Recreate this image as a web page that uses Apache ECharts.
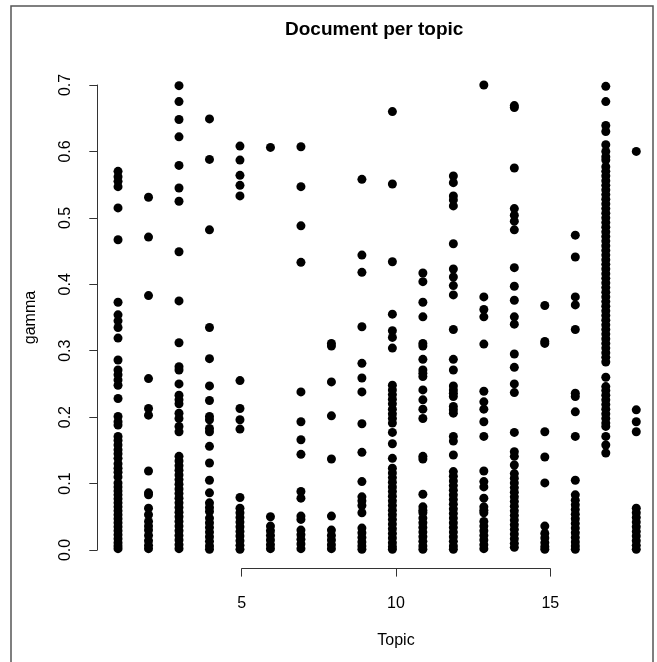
<!DOCTYPE html>
<html>
<head>
<meta charset="utf-8">
<title>Document per topic</title>
<script src="https://cdn.jsdelivr.net/npm/echarts@6/dist/echarts.min.js"></script>
<style>
  html, body { margin: 0; padding: 0; background: #fff; }
  #chart { width: 657px; height: 662px; }
</style>
</head>
<body>
<div id="chart"></div>
<script>
// gamma values per topic
var t1 = [0.570, 0.562, 0.555, 0.547, 0.515, 0.467, 0.373, 0.354, 0.345, 0.335, 0.319, 0.286, 0.271, 0.264, 0.256, 0.248, 0.228, 0.201, 0.193, 0.188, 0.171, 0.165, 0.158, 0.151, 0.145, 0.138, 0.130, 0.123, 0.117, 0.110, 0.101, 0.095, 0.089, 0.083, 0.077, 0.071, 0.065, 0.059, 0.053, 0.047, 0.041, 0.035, 0.029, 0.023, 0.017, 0.011, 0.006, 0.002];
var t2 = [0.531, 0.471, 0.383, 0.258, 0.213, 0.203, 0.119, 0.086, 0.083, 0.063, 0.053, 0.043, 0.036, 0.030, 0.022, 0.014, 0.007, 0.002];
var t3 = [0.699, 0.675, 0.648, 0.622, 0.579, 0.545, 0.525, 0.449, 0.375, 0.312, 0.276, 0.271, 0.250, 0.233, 0.226, 0.220, 0.206, 0.198, 0.186, 0.178, 0.141, 0.134, 0.127, 0.120, 0.113, 0.106, 0.099, 0.092, 0.085, 0.078, 0.071, 0.064, 0.057, 0.050, 0.043, 0.036, 0.029, 0.022, 0.015, 0.008, 0.002];
var t4 = [0.649, 0.588, 0.482, 0.335, 0.288, 0.247, 0.225, 0.201, 0.196, 0.183, 0.178, 0.156, 0.131, 0.105, 0.086, 0.071, 0.064, 0.058, 0.048, 0.041, 0.034, 0.027, 0.020, 0.013, 0.006, 0.001];
var t5 = [0.608, 0.587, 0.564, 0.549, 0.533, 0.255, 0.213, 0.196, 0.182, 0.079, 0.063, 0.056, 0.049, 0.042, 0.035, 0.028, 0.021, 0.014, 0.007, 0.001];
var t6 = [0.606, 0.050, 0.036, 0.029, 0.022, 0.015, 0.008, 0.002];
var t7 = [0.607, 0.547, 0.488, 0.433, 0.238, 0.193, 0.166, 0.144, 0.088, 0.078, 0.051, 0.046, 0.030, 0.023, 0.016, 0.009, 0.002];
var t8 = [0.311, 0.307, 0.253, 0.202, 0.137, 0.051, 0.030, 0.022, 0.015, 0.008, 0.002];
var t9 = [0.558, 0.444, 0.418, 0.336, 0.281, 0.259, 0.238, 0.190, 0.147, 0.103, 0.080, 0.074, 0.067, 0.056, 0.033, 0.026, 0.019, 0.012, 0.006, 0.001];
var t10 = [0.660, 0.551, 0.434, 0.355, 0.330, 0.320, 0.304, 0.248, 0.241, 0.234, 0.227, 0.220, 0.212, 0.205, 0.198, 0.191, 0.177, 0.160, 0.138, 0.123, 0.116, 0.109, 0.102, 0.095, 0.088, 0.081, 0.074, 0.067, 0.060, 0.053, 0.046, 0.039, 0.032, 0.025, 0.018, 0.011, 0.005, 0.001];
var t11 = [0.417, 0.404, 0.373, 0.351, 0.311, 0.307, 0.287, 0.271, 0.266, 0.261, 0.241, 0.226, 0.212, 0.198, 0.141, 0.137, 0.084, 0.065, 0.060, 0.056, 0.048, 0.041, 0.034, 0.027, 0.020, 0.013, 0.006, 0.001];
var t12 = [0.563, 0.553, 0.533, 0.527, 0.518, 0.461, 0.423, 0.411, 0.398, 0.384, 0.332, 0.287, 0.271, 0.247, 0.241, 0.236, 0.231, 0.216, 0.211, 0.206, 0.171, 0.164, 0.143, 0.118, 0.111, 0.104, 0.097, 0.090, 0.083, 0.076, 0.069, 0.062, 0.055, 0.048, 0.041, 0.034, 0.027, 0.020, 0.013, 0.006, 0.001];
var t13 = [0.700, 0.381, 0.362, 0.351, 0.310, 0.239, 0.223, 0.212, 0.193, 0.171, 0.119, 0.103, 0.095, 0.078, 0.065, 0.060, 0.056, 0.043, 0.036, 0.029, 0.022, 0.015, 0.008, 0.002];
var t14 = [0.669, 0.666, 0.575, 0.514, 0.504, 0.495, 0.482, 0.425, 0.397, 0.376, 0.351, 0.340, 0.295, 0.275, 0.250, 0.237, 0.177, 0.148, 0.141, 0.128, 0.115, 0.108, 0.101, 0.094, 0.087, 0.080, 0.073, 0.066, 0.059, 0.052, 0.045, 0.038, 0.031, 0.024, 0.017, 0.010, 0.004];
var t15 = [0.368, 0.314, 0.311, 0.178, 0.140, 0.101, 0.036, 0.025, 0.018, 0.011, 0.005, 0.001];
var t16 = [0.474, 0.441, 0.381, 0.369, 0.332, 0.236, 0.231, 0.208, 0.171, 0.105, 0.083, 0.075, 0.068, 0.061, 0.054, 0.047, 0.040, 0.033, 0.026, 0.019, 0.012, 0.006, 0.001];
var t17 = [0.698, 0.675, 0.639, 0.630, 0.610, 0.600, 0.592, 0.587, 0.577, 0.570, 0.563, 0.556, 0.549, 0.542, 0.535, 0.528, 0.521, 0.514, 0.507, 0.500, 0.493, 0.486, 0.479, 0.472, 0.465, 0.458, 0.451, 0.444, 0.437, 0.430, 0.423, 0.416, 0.409, 0.402, 0.395, 0.388, 0.381, 0.374, 0.367, 0.360, 0.353, 0.346, 0.339, 0.332, 0.325, 0.318, 0.311, 0.304, 0.297, 0.290, 0.283, 0.260, 0.246, 0.240, 0.233, 0.226, 0.219, 0.212, 0.205, 0.198, 0.191, 0.186, 0.171, 0.158, 0.146];
var t18 = [0.600, 0.211, 0.193, 0.178, 0.063, 0.056, 0.049, 0.042, 0.035, 0.028, 0.021, 0.014, 0.007, 0.001];

var topics = [t1, t2, t3, t4, t5, t6, t7, t8, t9, t10, t11, t12, t13, t14, t15, t16, t17, t18];
var xTicks = [5, 10, 15];
var yTicks = [0.0, 0.1, 0.2, 0.3, 0.4, 0.5, 0.6, 0.7];

var points = [];
topics.forEach(function (vals, i) {
  vals.forEach(function (v) {
    points.push([i + 1, v]);
  });
});

var font = "'Liberation Sans', Arial, sans-serif";
var axisCol = "#333";

var chart = echarts.init(document.getElementById("chart"), null, { renderer: "canvas" });
chart.setOption({
  backgroundColor: "#fff",
  animation: false,
  title: {
    text: "Document per topic",
    left: 280,
    top: 15,
    textStyle: { fontFamily: font, fontSize: 19, fontWeight: "bold", color: "#000" },
  },
  graphic: [
    {
      type: "rect",
      shape: { x: 11, y: 6, width: 642, height: 680 },
      style: { fill: "none", stroke: "#555", lineWidth: 1.5 },
      silent: true,
    },
  ],
  grid: [
    // plotting region (R extends the range by 4%)
    { left: 97.3, top: 66.4, width: 566.6, height: 502.2 },
    // x axis drawn only from 5 to 15, like R
    { left: 241.7, top: 66.4, width: 308.6, height: 502.2 },
    // y axis drawn only from 0 to 0.7
    { left: 97.3, top: 85, width: 10, height: 465 },
  ],
  xAxis: [
    { gridIndex: 0, type: "value", min: 0.32, max: 18.68, show: false },
    {
      gridIndex: 1,
      type: "value",
      min: xTicks[0],
      max: xTicks[xTicks.length - 1],
      interval: 5,
      name: "Topic",
      nameLocation: "middle",
      nameGap: 64,
      nameTextStyle: { fontFamily: font, fontSize: 16, color: "#000" },
      axisLine: { show: true, onZero: false, lineStyle: { color: axisCol, width: 1 } },
      axisTick: { show: true, length: 8, lineStyle: { color: axisCol } },
      axisLabel: { margin: 27, fontFamily: font, fontSize: 16, color: "#000" },
      splitLine: { show: false },
    },
    { gridIndex: 2, type: "value", show: false },
  ],
  yAxis: [
    { gridIndex: 0, type: "value", min: -0.028, max: 0.728, show: false },
    { gridIndex: 1, type: "value", show: false, min: -0.028, max: 0.728 },
    {
      gridIndex: 2,
      type: "value",
      min: yTicks[0],
      max: yTicks[yTicks.length - 1],
      interval: 0.1,
      name: "gamma",
      nameLocation: "middle",
      nameGap: 59,
      nameRotate: 90,
      nameTextStyle: { fontFamily: font, fontSize: 16, color: "#000" },
      axisLine: { show: true, onZero: false, lineStyle: { color: axisCol, width: 1 } },
      axisTick: { show: true, length: 8, lineStyle: { color: axisCol } },
      axisLabel: {
        rotate: 90,
        margin: 24,
        fontFamily: font,
        fontSize: 16,
        color: "#000",
        formatter: function (v) {
          return v.toFixed(1);
        },
      },
      splitLine: { show: false },
    },
  ],
  series: [
    {
      type: "scatter",
      xAxisIndex: 0,
      yAxisIndex: 0,
      data: points,
      symbol: "circle",
      symbolSize: 9,
      itemStyle: { color: "#000", opacity: 1 },
      silent: true,
    },
  ],
});
</script>
</body>
</html>
